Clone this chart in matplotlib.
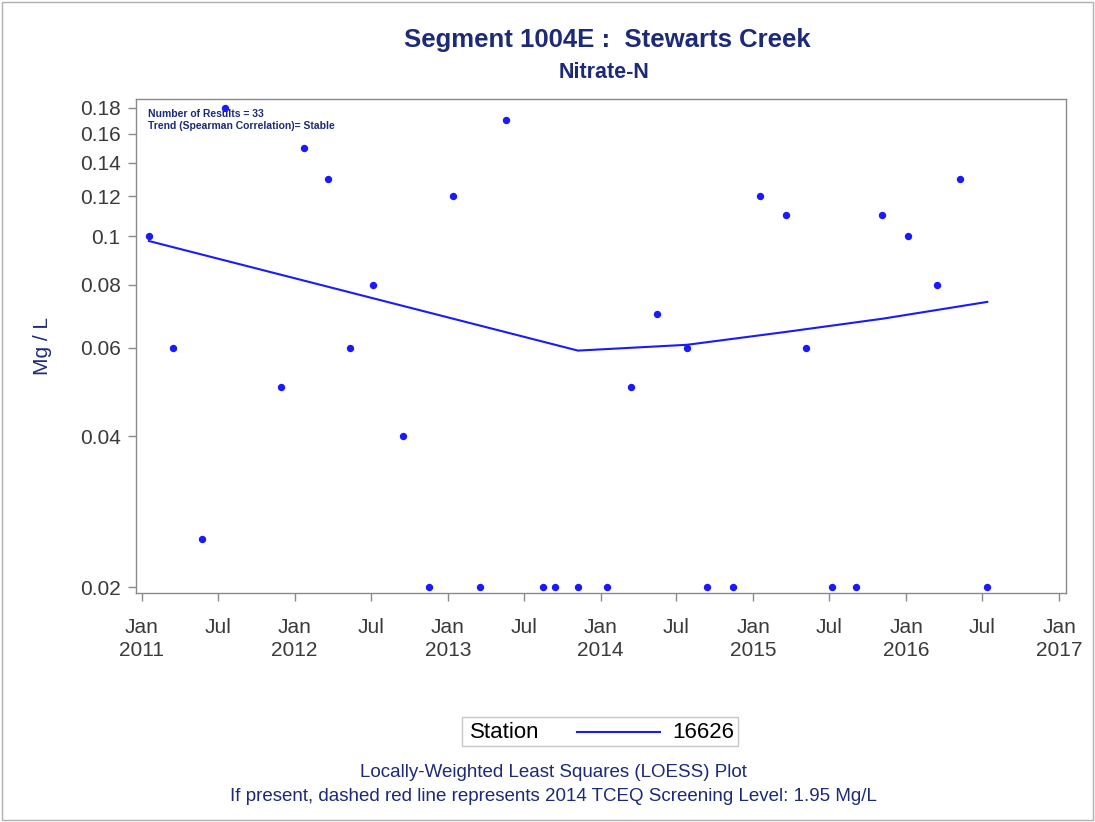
import pandas as pd
import matplotlib
matplotlib.use("Agg")
import matplotlib.pyplot as plt
from matplotlib.patches import Rectangle
from matplotlib.lines import Line2D

# sample data
sample_dates = [
    "2011-01-18", "2011-03-16", "2011-05-24", "2011-07-18", "2011-11-29",
    "2012-01-23", "2012-03-21", "2012-05-12", "2012-07-06", "2012-09-16",
    "2012-11-17", "2013-01-13", "2013-03-19", "2013-05-20", "2013-08-17",
    "2013-09-14", "2013-11-08", "2014-01-17", "2014-03-15", "2014-05-16",
    "2014-07-27", "2014-09-13", "2014-11-14", "2015-01-17", "2015-03-20",
    "2015-05-07", "2015-07-08", "2015-09-04", "2015-11-05", "2016-01-06",
    "2016-03-15", "2016-05-09", "2016-07-13",
]
nitrate = [
    0.10, 0.06, 0.025, 0.18, 0.05,
    0.15, 0.13, 0.06, 0.08, 0.04,
    0.02, 0.12, 0.02, 0.17, 0.02,
    0.02, 0.02, 0.02, 0.05, 0.07,
    0.06, 0.02, 0.02, 0.12, 0.11,
    0.06, 0.02, 0.02, 0.11, 0.10,
    0.08, 0.13, 0.02,
]

# loess fit
loess_dates = ["2011-01-18", "2013-11-08", "2014-07-27", "2015-03-20", "2015-11-05", "2016-07-13"]
loess_vals = [0.0978, 0.0592, 0.0608, 0.0645, 0.0685, 0.0740]

y_ticks = [0.02, 0.04, 0.06, 0.08, 0.1, 0.12, 0.14, 0.16, 0.18]
y_labels = ["0.02", "0.04", "0.06", "0.08", "0.1", "0.12", "0.14", "0.16", "0.18"]

navy = "#1c2a78"
blue = "#1a1aff"

plt.rcParams['font.family'] = ['Liberation Sans', 'DejaVu Sans']

fig = plt.figure(figsize=(10.95, 8.22), dpi=100)
ax = fig.add_axes([0.1242, 0.2786, 0.8493, 0.601])

d = pd.to_datetime(sample_dates)
ld = pd.to_datetime(loess_dates)

ax.plot(ld, loess_vals, color=blue, lw=1.5, zorder=2)
ax.plot(d, nitrate, 'o', color=blue, ms=4.3, mec=blue, zorder=3)

ax.set_yscale('log')
ax.set_ylim(0.0195, 0.1875)
ax.yaxis.set_major_locator(matplotlib.ticker.FixedLocator(y_ticks))
ax.yaxis.set_major_formatter(matplotlib.ticker.FixedFormatter(y_labels))
ax.yaxis.set_minor_locator(matplotlib.ticker.NullLocator())

ax.set_xlim(pd.Timestamp("2010-12-18"), pd.Timestamp("2017-01-17"))
xt = []
xl = []
for yr in range(2011, 2018):
    xt.append(pd.Timestamp(f"{yr}-01-01"))
    xl.append(f"Jan\n{yr}")
    if yr < 2017:
        xt.append(pd.Timestamp(f"{yr}-07-01"))
        xl.append("Jul")
ax.set_xticks(xt)
ax.set_xticklabels(xl, va='top', linespacing=1.25)
ax.xaxis.set_minor_locator(matplotlib.ticker.NullLocator())

for s in ax.spines.values():
    s.set_color("#8a8a8a")
    s.set_linewidth(1.0)
ax.tick_params(axis='both', colors="#8a8a8a", labelcolor="#3a3a3a", labelsize=15,
               length=6, width=1, direction='out')
ax.tick_params(axis='x', pad=12)
ax.tick_params(axis='y', pad=5)

ax.set_ylabel("Mg / L", color=navy, fontsize=15, labelpad=20)

ax.text(0.0125, 0.980, "Number of Results = 33", transform=ax.transAxes,
        fontsize=7.5, fontweight='bold', color=navy, va='top')
ax.text(0.0125, 0.955, "Trend (Spearman Correlation)= Stable", transform=ax.transAxes,
        fontsize=7.5, fontweight='bold', color=navy, va='top')

fig.text(0.555, 1 - 40 / 822, "Segment 1004E :  Stewarts Creek", ha='center', va='center',
         fontsize=18.5, fontweight='bold', color=navy)
fig.text(0.552, 1 - 73 / 822, "Nitrate-N", ha='center', va='center',
         fontsize=15.5, fontweight='bold', color=navy)

# legend, drawn as a box with the title on the left of the entry
fig.patches.append(Rectangle((462 / 1095, 1 - 746 / 822), 276 / 1095, 29 / 822,
                             transform=fig.transFigure, fill=True, facecolor='white',
                             edgecolor="#c8c8c8", lw=1.0))
fig.text(470 / 1095, 1 - 732 / 822, "Station", ha='left', va='center', fontsize=16, color='black')
fig.lines.append(Line2D([577 / 1095, 660 / 1095], [1 - 732 / 822, 1 - 732 / 822],
                        transform=fig.transFigure, color=blue, lw=1.5))
fig.text(672 / 1095, 1 - 732 / 822, "16626", ha='left', va='center', fontsize=16, color='black')

fig.text(0.505, 1 - 772 / 822, "Locally-Weighted Least Squares (LOESS) Plot", ha='center',
         va='center', fontsize=13.5, color=navy)
fig.text(0.505, 1 - 796 / 822, "If present, dashed red line represents 2014 TCEQ Screening Level: 1.95 Mg/L",
         ha='center', va='center', fontsize=13.5, color=navy)

fig.patches.append(Rectangle((0.002, 0.002), 0.996, 0.996, transform=fig.transFigure,
                             fill=False, edgecolor="#b0b0b0", lw=1.0))

fig.savefig("out.png", dpi=100)
